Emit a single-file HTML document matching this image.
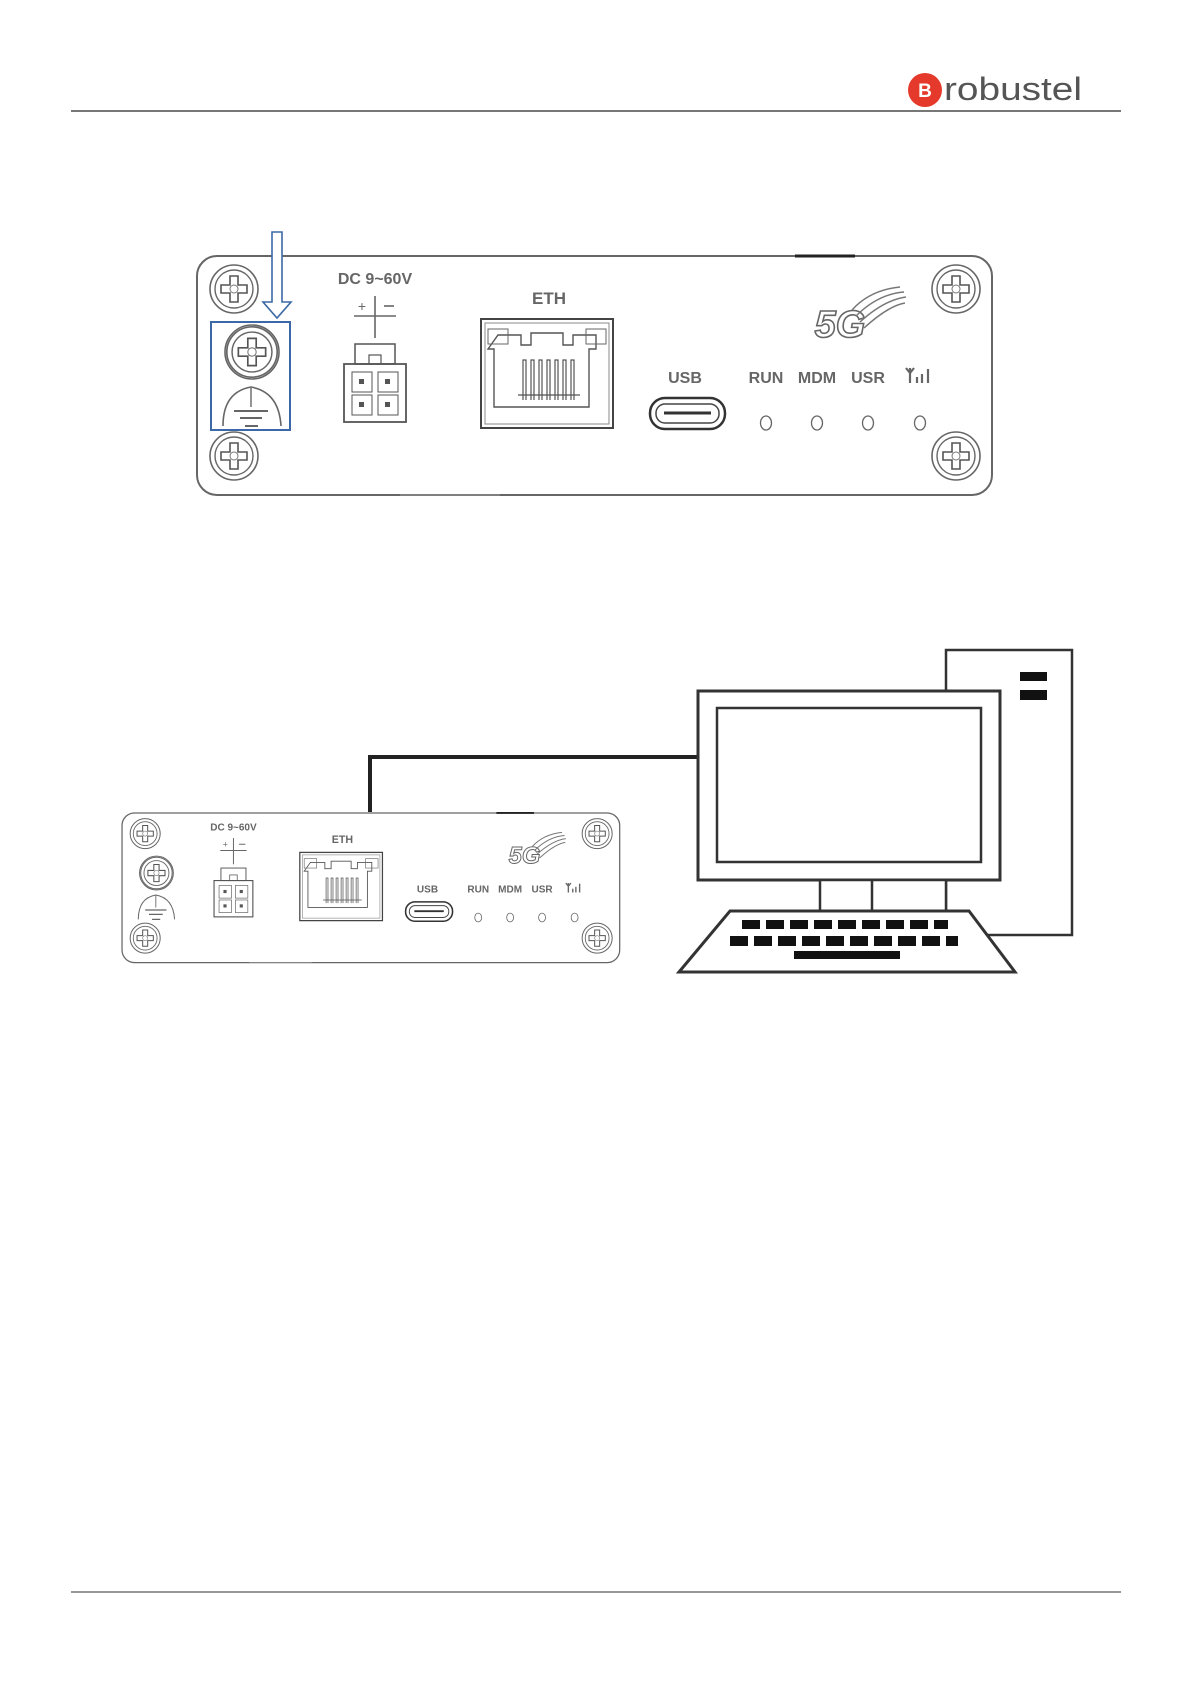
<!DOCTYPE html>
<html><head><meta charset="utf-8"><style>
html,body{margin:0;padding:0;background:#fff}
svg{display:block}
text{font-family:"Liberation Sans",sans-serif}
</style></head><body>
<svg width="1192" height="1685" viewBox="0 0 1192 1685" xmlns="http://www.w3.org/2000/svg">
<defs>
<g id="screw">
 <circle r="24" fill="#fff" stroke="#666" stroke-width="1.6"/>
 <circle r="19" fill="none" stroke="#666" stroke-width="1.4"/>
 <path d="M-4,-13 h8 v9 h9 v8 h-9 v9 h-8 v-9 h-9 v-8 h9 z" fill="none" stroke="#555" stroke-width="1.6"/>
 <circle r="4" fill="none" stroke="#777" stroke-width="1"/>
</g>
<g id="dev">
 <rect x="197" y="256" width="795" height="239" rx="20" fill="#fff" stroke="#666" stroke-width="2"/>
 <line x1="795" y1="256" x2="855" y2="256" stroke="#222" stroke-width="3"/>
 <use href="#screw" x="234" y="289"/>
 <use href="#screw" x="234" y="456"/>
 <use href="#screw" x="956" y="289"/>
 <use href="#screw" x="956" y="456"/>
 <circle cx="252" cy="352" r="27" fill="none" stroke="#666" stroke-width="1.6"/>
 <g transform="translate(252,352) scale(1.05)"><use href="#screw"/></g>
 <path d="M223,426 Q223,392 251,387 Q279,392 281,426" fill="none" stroke="#666" stroke-width="1.6"/>
 <line x1="251" y1="388" x2="251" y2="407" stroke="#666" stroke-width="1.4"/>
 <line x1="234" y1="411" x2="268" y2="411" stroke="#666" stroke-width="2"/>
 <line x1="240" y1="418" x2="262" y2="418" stroke="#666" stroke-width="2"/>
 <line x1="245" y1="426" x2="258" y2="426" stroke="#666" stroke-width="2"/>
 <text x="375" y="284" font-size="16" font-weight="bold" fill="#666" text-anchor="middle">DC 9~60V</text>
 <line x1="375" y1="296" x2="375" y2="338" stroke="#666" stroke-width="1.6"/>
 <line x1="354" y1="316" x2="396" y2="316" stroke="#666" stroke-width="1.6"/>
 <text x="362" y="311" font-size="14" fill="#666" text-anchor="middle">+</text>
 <line x1="384" y1="306" x2="394" y2="306" stroke="#666" stroke-width="1.6"/>
 <rect x="355" y="344" width="40" height="20" fill="none" stroke="#555" stroke-width="1.5"/>
 <rect x="369" y="355" width="12" height="9" fill="none" stroke="#555" stroke-width="1.2"/>
 <rect x="344" y="364" width="62" height="58" fill="none" stroke="#555" stroke-width="1.8"/>
 <rect x="352" y="372" width="20" height="20" fill="none" stroke="#555"/>
 <rect x="378" y="372" width="20" height="20" fill="none" stroke="#555"/>
 <rect x="352" y="395" width="20" height="20" fill="none" stroke="#555"/>
 <rect x="378" y="395" width="20" height="20" fill="none" stroke="#555"/>
 <rect x="359" y="379" width="5" height="5" fill="#555"/><rect x="385" y="379" width="5" height="5" fill="#555"/>
 <rect x="359" y="402" width="5" height="5" fill="#555"/><rect x="385" y="402" width="5" height="5" fill="#555"/>
 <text x="549" y="304" font-size="17" font-weight="bold" fill="#666" text-anchor="middle">ETH</text>
 <rect x="481" y="319" width="132" height="109" fill="none" stroke="#444" stroke-width="2"/>
 <rect x="485" y="323" width="124" height="101" fill="none" stroke="#888" stroke-width="1"/>
 <path d="M498,335 h23 v10 h10 v-12 h32 v12 h10 v-10 h23 v14 h-7 v58 h-95 v-58 h-6 z" fill="none" stroke="#555" stroke-width="1.4"/>
 <rect x="488" y="329" width="20" height="15" fill="none" stroke="#666"/>
 <rect x="586" y="329" width="20" height="15" fill="none" stroke="#666"/>
 <g stroke="#555" stroke-width="1.2" fill="none">
  <path d="M523,400 v-40 h3 v40 M531,400 v-40 h3 v40 M539,400 v-40 h3 v40 M547,400 v-40 h3 v40 M555,400 v-40 h3 v40 M563,400 v-40 h3 v40 M571,400 v-40 h3 v40"/>
  <line x1="518" y1="395" x2="580" y2="395"/>
 </g>
 <text x="685" y="383" font-size="16" font-weight="bold" fill="#666" text-anchor="middle">USB</text>
 <rect x="650" y="398" width="75" height="31" rx="15" fill="none" stroke="#333" stroke-width="2.5"/>
 <rect x="656" y="404" width="63" height="19" rx="9" fill="none" stroke="#444" stroke-width="1.5"/>
 <line x1="664" y1="413" x2="711" y2="413" stroke="#333" stroke-width="3"/>
 <g font-size="16" font-weight="bold" fill="#666" text-anchor="middle">
  <text x="766" y="383">RUN</text><text x="817" y="383">MDM</text><text x="868" y="383">USR</text>
 </g>
 <g stroke="#666" stroke-width="2.2" fill="none">
  <path d="M906,368 l4,5 l4,-5 M910,368 v15"/><line x1="917" y1="377" x2="917" y2="383"/><line x1="922" y1="374" x2="922" y2="383"/><line x1="928" y1="369" x2="928" y2="383"/>
 </g>
 <g fill="none" stroke="#666" stroke-width="1.3">
  <ellipse cx="766" cy="423" rx="5.5" ry="7"/><ellipse cx="817" cy="423" rx="5.5" ry="7"/><ellipse cx="868" cy="423" rx="5.5" ry="7"/><ellipse cx="920" cy="423" rx="5.5" ry="7"/>
 </g>
 <text x="840" y="337" font-size="38" font-weight="bold" font-style="italic" fill="#fff" stroke="#666" stroke-width="1.6" text-anchor="middle">5G</text>
 <g fill="none" stroke="#777" stroke-width="1.5">
  <path d="M852,310 Q870,290 900,287"/><path d="M856,316 Q878,294 904,292"/><path d="M860,322 Q884,300 906,297"/><path d="M864,328 Q888,306 905,303"/>
 </g>
 <line x1="400" y1="495" x2="500" y2="495" stroke="#888" stroke-width="1.5"/>
</g>
</defs>

<line x1="71" y1="111" x2="1121" y2="111" stroke="#777" stroke-width="2"/>
<circle cx="925" cy="90" r="17" fill="#e53a2b"/>
<text x="925" y="97" font-size="19" font-weight="bold" fill="#fff" text-anchor="middle">B</text>
<text x="944" y="100" font-size="32" fill="#555" textLength="138" lengthAdjust="spacingAndGlyphs">robustel</text>

<use href="#dev"/>
<rect x="211" y="322" width="79" height="108" fill="none" stroke="#3b68a6" stroke-width="2"/>
<path d="M272,232 h10 v70 h9 l-14,16 l-14,-16 h9 z" fill="#fff" stroke="#3b68a6" stroke-width="1.6"/>

<path d="M370,812 V757 H700" fill="none" stroke="#222" stroke-width="4"/>

<g transform="translate(-1.3,652.7) scale(0.626)"><use href="#dev"/></g>

<rect x="946" y="650" width="126" height="285" fill="#fff" stroke="#333" stroke-width="2.5"/>
<rect x="1020" y="672" width="27" height="9" fill="#111"/>
<rect x="1020" y="690" width="27" height="10" fill="#111"/>
<rect x="698" y="691" width="302" height="189" fill="#fff" stroke="#333" stroke-width="3"/>
<rect x="717" y="708" width="264" height="154" fill="#fff" stroke="#333" stroke-width="2.5"/>
<rect x="820" y="880" width="126" height="32" fill="#fff" stroke="#333" stroke-width="2.5"/>
<line x1="872" y1="880" x2="872" y2="912" stroke="#333" stroke-width="2.5"/>
<path d="M730,911 H969 L1015,972 H679 Z" fill="#fff" stroke="#333" stroke-width="3"/>
<g fill="#111">
 <rect x="742" y="920" width="18" height="9"/><rect x="766" y="920" width="18" height="9"/><rect x="790" y="920" width="18" height="9"/><rect x="814" y="920" width="18" height="9"/><rect x="838" y="920" width="18" height="9"/><rect x="862" y="920" width="18" height="9"/><rect x="886" y="920" width="18" height="9"/><rect x="910" y="920" width="18" height="9"/><rect x="934" y="920" width="14" height="9"/>
 <rect x="730" y="936" width="18" height="10"/><rect x="754" y="936" width="18" height="10"/><rect x="778" y="936" width="18" height="10"/><rect x="802" y="936" width="18" height="10"/><rect x="826" y="936" width="18" height="10"/><rect x="850" y="936" width="18" height="10"/><rect x="874" y="936" width="18" height="10"/><rect x="898" y="936" width="18" height="10"/><rect x="922" y="936" width="18" height="10"/><rect x="946" y="936" width="12" height="10"/>
 <rect x="794" y="951" width="106" height="8"/>
</g>

<line x1="71" y1="1592" x2="1121" y2="1592" stroke="#777" stroke-width="1.5"/>
</svg>
</body></html>
